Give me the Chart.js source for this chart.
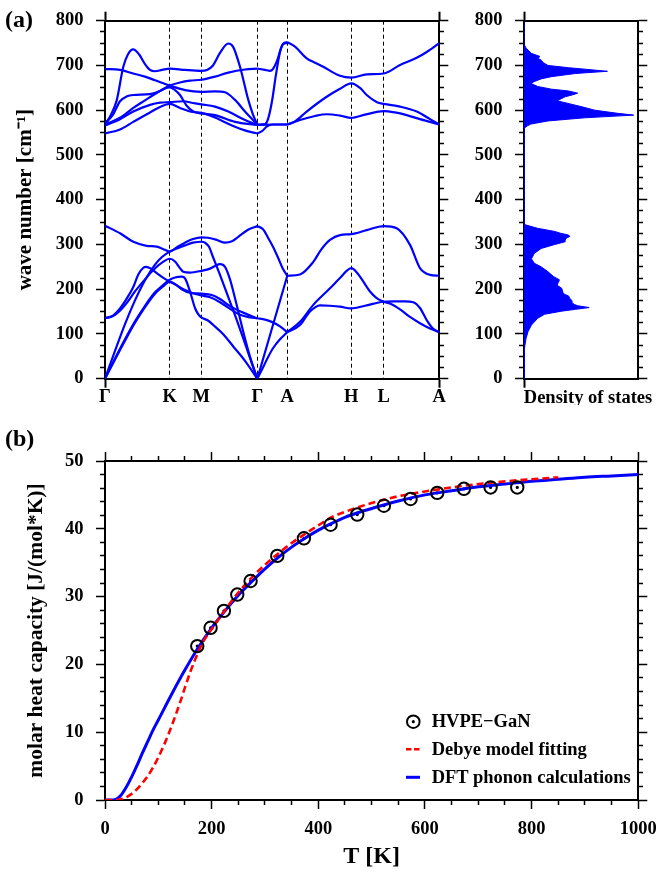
<!DOCTYPE html>
<html>
<head>
<meta charset="utf-8">
<script src="https://cdn.jsdelivr.net/npm/chart.js@4.4.1/dist/chart.umd.min.js"></script>
<style>
  html, body { margin: 0; padding: 0; background: #fff; }
  #page { position: relative; width: 656px; height: 872px; overflow: hidden;
          font-family: "Liberation Serif", "Times New Roman", serif; font-weight: bold; color: #000; }
  canvas { position: absolute; }
  .lbl { position: absolute; white-space: nowrap; }
  .leg { position: absolute; white-space: nowrap; font-size: 18.5px; line-height: 20px; left: 431.7px; }
</style>
</head>
<body>
<div id="page">
  <canvas id="disp" width="450" height="405" style="left:0;top:0"></canvas>
  <canvas id="dos" width="206" height="405" style="left:450px;top:0"></canvas>
  <canvas id="cp" width="656" height="467" style="left:0;top:405px"></canvas>
  <div class="lbl" style="left:5px;top:7px;font-size:24px;line-height:24px">(a)</div>
  <div class="lbl" style="left:5px;top:426px;font-size:24px;line-height:24px">(b)</div>
  <svg style="position:absolute;left:0;top:0" width="656" height="872">
    <circle cx="413.3" cy="721.7" r="6.3" fill="none" stroke="#000" stroke-width="2"/>
    <circle cx="413.3" cy="721.7" r="1.6" fill="#000"/>
    <line x1="406" y1="749.3" x2="420" y2="749.3" stroke="#ff0000" stroke-width="2.5" stroke-dasharray="5.5,2.5"/>
    <line x1="406" y1="777.3" x2="420" y2="777.3" stroke="#0000ff" stroke-width="3"/>
  </svg>
  <div class="leg" style="top:710.8px">HVPE−GaN</div>
  <div class="leg" style="top:738.8px">Debye model fitting</div>
  <div class="leg" style="top:766.7px">DFT phonon calculations</div>
</div>
<script>
// high-symmetry path
const kLabels = ['Γ', 'K', 'M', 'Γ', 'A', 'H', 'L', 'A'];
const kPos = [0, 64.7, 96.3, 152.3, 182.3, 246.3, 278.7, 334.3];

// phonon branches along Γ-K-M-Γ  [path position, cm^-1]
const bandsGKMG = [
  [[0,548],[15,557],[28.3,574],[45,595],[55,607],[64.7,614],[75,605],[85,597],[96.3,594],[110,584],[120,573],[130,563],[140,555],[146.7,551],[152.3,548]],
  [[0,566],[15,580],[28.3,597],[45,612],[55,617],[64.7,618],[78.3,620],[88,616],[96.3,613],[110,608],[123.3,597],[140,578],[152.3,567]],
  [[0,568],[15,583],[28.3,605],[40,622],[48.3,634],[64.7,651],[70,645],[75,634],[81.7,610],[88.3,597],[96.3,593],[110,589],[130,574],[152.3,567]],
  [[0,570],[8,590],[15,620],[22,631],[28.3,634],[45,636],[55,643],[64.7,655],[75,662],[85,666],[96.3,668],[110,675],[123.3,684],[140,691],[152.3,693]],
  [[0,692],[15,690],[28.3,682],[40,675],[50,667],[64.7,655],[80,645],[96.3,641],[110,642],[120,640],[130,623],[140,597],[152.3,568]],
  [[0,568],[6,590],[11.7,622],[18.3,697],[23,725],[28.3,736],[34,725],[40,703],[45,690],[50,687],[57,690],[64.7,693],[80,690],[96.3,688],[102,690],[108,700],[115,728],[123.3,749],[128,742],[135,697],[143.3,623],[148,590],[152.3,568]],
  [[0,342],[15,325],[28.3,306],[41.7,297],[51.7,295],[58,290],[64.7,284],[72,294],[80,304],[88,312],[96.3,316],[103,315],[112,310],[120,304],[127,307],[133.3,317],[143,333],[152.3,341]],
  [[0,0],[10,62],[20,122],[30,175],[40,220],[50,255],[57,272],[64.7,284],[72,291],[80,298],[88,304],[96.3,306],[100,304],[104,295],[108,272],[115,232],[122,190],[130,142],[138,92],[145,46],[152.3,0]],
  [[0,135],[8,140],[15,152],[22,170],[30,195],[40,222],[48.3,243],[58,261],[64.7,268],[70,262],[75,247],[78.3,239],[85,237],[96.3,241],[105,246],[110,252],[115,256],[120,250],[125,222],[130,180],[133.3,150],[140,90],[146,42],[152.3,0]],
  [[0,0],[10,45],[20,88],[30,128],[40,163],[50,193],[58,209],[64.7,221],[70,226],[76.7,228],[80,224],[85,195],[90,158],[93,145],[96.3,137],[103,130],[108.3,120],[118,100],[128.3,72],[140,40],[152.3,0]],
  [[0,135],[8,141],[15,157],[22,180],[28.3,205],[33.3,233],[38.3,248],[41,250],[46,246],[51.7,236],[58,226],[64.7,217],[71.7,209],[76.7,200],[85,192],[96.3,190],[106.7,187],[115,178],[121.7,167],[130,156],[140,146],[152.3,135]],
  [[0,0],[10,43],[20,85],[30,125],[40,160],[50,190],[58,206],[64.7,217],[72,208],[80,198],[88,191],[96.3,186],[105,182],[115,171],[125,156],[135,143],[145,137],[152.3,135]]
];

// branches along Γ-A
const bandsGA = [
  [[152.3,548],[157,553],[162,564],[168,568],[182.3,568]],
  [[152.3,567],[167,568],[182.3,568]],
  [[152.3,693],[160,690],[165,688],[168,692],[172,710],[176,738],[179,750],[182.3,752]],
  [[152.3,568],[160,569],[163,580],[167,620],[171,680],[175,730],[178,748],[182.3,750]],
  [[152.3,341],[158,334],[163.3,314],[168,295],[173.3,269],[178,245],[182.3,230]],
  [[152.3,0],[167.3,115],[182.3,230]],
  [[152.3,0],[158,25],[163,48],[168,68],[175,88],[182.3,104]],
  [[152.3,135],[160,132],[166.7,127],[175,117],[182.3,104]]
];

// branches along A-H-L-A
const bandsAHLA = [
  [[182.3,752],[190,742],[201.7,716],[210,706],[218.3,697],[235,677],[246.3,673],[261.7,680],[278.7,682],[295,701],[311.7,717],[321.7,730],[334.3,750]],
  [[182.3,568],[190,575],[201.7,597],[221.7,630],[235,648],[246.3,660],[255,650],[261.7,634],[272,618],[278.7,614],[295,608],[311.7,597],[325,580],[334.3,568]],
  [[182.3,568],[195,578],[210,587],[221.7,591],[235,588],[246.3,583],[260,590],[278.7,598],[290,595],[301.7,589],[315,580],[325,574],[334.3,568]],
  [[182.3,230],[195,233],[208.3,261],[216,288],[225,310],[235,321],[246.3,323],[261.7,332],[278.7,341],[291.7,336],[305,299],[315,247],[325,232],[334.3,230]],
  [[182.3,104],[195,127],[208.3,165],[225,202],[235,225],[246.3,247],[252,237],[258,218],[265,195],[271.7,180],[278.7,172],[285,168],[295,155],[305,138],[315,124],[325,112],[334.3,104]],
  [[182.3,104],[195,120],[205,150],[215,164],[225,163],[235,161],[246.3,157],[260,163],[278.7,172],[290,173],[300,173],[308.3,171],[315,158],[321.7,131],[328,112],[334.3,104]]
];

// density of states (arbitrary units, 0..1)
const dosFreq = [0, 38, 68, 90, 105, 120, 135, 144, 151, 155, 159, 163, 166, 170, 174, 180, 185, 189, 193, 202, 209, 215, 221, 228, 239, 250, 258, 268, 280, 291, 300, 306, 310, 314, 318, 321, 325, 329, 336, 344, 347,
                 555, 560, 565, 569, 576, 583, 589, 593, 600, 608, 613, 621, 630, 634, 638, 643, 647, 653, 660, 664, 670, 675, 682, 687, 695, 700, 706, 712, 716, 720, 727, 738, 747, 800];
const dosVal = [0, 0.002, 0.006, 0.018, 0.035, 0.065, 0.12, 0.18, 0.33, 0.45, 0.57, 0.47, 0.44, 0.42, 0.42, 0.40, 0.39, 0.35, 0.34, 0.33, 0.29, 0.30, 0.31, 0.26, 0.21, 0.15, 0.09, 0.065, 0.09, 0.15, 0.27, 0.36, 0.36, 0.37, 0.40, 0.39, 0.32, 0.27, 0.12, 0.01, 0,
                0, 0.006, 0.03, 0.06, 0.21, 0.53, 0.96, 0.82, 0.62, 0.50, 0.42, 0.29, 0.36, 0.42, 0.47, 0.39, 0.24, 0.12, 0.06, 0.09, 0.15, 0.24, 0.45, 0.73, 0.39, 0.21, 0.17, 0.15, 0.12, 0.14, 0.065, 0.02, 0, 0];

// molar heat capacity
const hvpeT  = [173, 198, 223, 248, 273, 323, 373, 423, 473, 523, 573, 623, 673, 723, 773];
const hvpeCp = [22.7, 25.4, 27.9, 30.3, 32.3, 36.0, 38.6, 40.6, 42.1, 43.4, 44.4, 45.3, 45.9, 46.1, 46.1];
const dftT  = [0, 10, 20, 30, 40, 50, 60, 70, 80, 90, 100, 125, 150, 175, 200, 225, 250, 275, 300, 325, 350, 375, 400, 425, 450, 475, 500, 550, 600, 650, 700, 750, 800, 850, 900, 950, 1000];
const dftCp = [0, 0, 0.1, 0.7, 1.9, 3.4, 5.1, 6.9, 8.6, 10.3, 11.8, 15.6, 19.2, 22.5, 25.4, 27.9, 30.2, 32.2, 34.1, 35.8, 37.3, 38.6, 39.8, 40.8, 41.7, 42.4, 43.0, 44.1, 45.0, 45.6, 46.2, 46.6, 47.0, 47.3, 47.6, 47.8, 48.0];
const debyeT  = [0, 20, 30, 40, 50, 60, 70, 80, 90, 100, 110, 120, 130, 140, 150, 160, 170, 180, 190, 200, 225, 250, 275, 300, 350, 400, 425, 450, 500, 550, 600, 650, 700, 750, 800, 850];
const debyeCp = [0, 0, 0.1, 0.4, 0.9, 1.6, 2.5, 3.5, 4.8, 6.3, 8.0, 9.9, 12.0, 14.2, 16.6, 18.9, 20.9, 22.7, 24.1, 25.2, 28.0, 30.6, 32.8, 34.7, 37.9, 40.5, 41.7, 42.5, 43.8, 44.8, 45.5, 46.1, 46.6, 47.0, 47.3, 47.6];

Chart.defaults.font.family = "'Liberation Serif', 'Times New Roman', serif";
Chart.defaults.font.weight = 'bold';
Chart.defaults.font.size = 18.5;
Chart.defaults.color = '#000';
Chart.defaults.animation = false;
Chart.defaults.plugins.legend.display = false;
Chart.defaults.plugins.tooltip.enabled = false;

const BLUE = '#0000ff';
const NONE = 'rgba(0,0,0,0)';

// fixed axis sizes so every plot area lands where the reference has it
function fitW(w) { return s => { s.width = w; s.paddingTop = 0; s.paddingBottom = 0; }; }
function fitH(h) { return s => { s.height = h; s.paddingLeft = 0; s.paddingRight = 0; }; }

// minor ticks are drawn shorter by dashing away the outer part of the tick line
function tickDash(major, outerFirst) {
  return c => {
    if (!c.tick) return [];
    const r = c.tick.value / major;
    if (Math.abs(r - Math.round(r)) < 1e-6) return [];
    return outerFirst ? [0, 4, 20] : [4, 20];
  };
}

function valueAxis(position, max, step, major, width, opts) {
  const left = position === 'left';
  return Object.assign({
    type: 'linear', position, min: 0, max,
    afterFit: fitW(width),
    ticks: left
      ? { stepSize: step, autoSkip: false, padding: 12.5, callback: v => (v % major === 0 ? v : '') }
      : { stepSize: step, autoSkip: false, display: false },
    grid: { drawOnChartArea: false, tickLength: 9, tickWidth: 1.5, color: '#000', tickBorderDash: tickDash(major, left) },
    border: { width: 2, color: '#000' }
  }, opts || {});
}

function lineSet(seg) {
  return {
    data: seg.map(([x, y]) => ({ x, y })),
    borderColor: BLUE, borderWidth: 2.2, pointRadius: 0, fill: false,
    cubicInterpolationMode: 'monotone'
  };
}

// ---------- (a) dispersion ----------
const isEnd = c => c.index === 0 || c.index === kPos.length - 1;
new Chart(document.getElementById('disp'), {
  type: 'line',
  data: { datasets: bandsGKMG.concat(bandsGA, bandsAHLA).map(lineSet) },
  options: {
    responsive: false,
    layout: { padding: 0, autoPadding: false },
    scales: {
      x: {
        type: 'linear', position: 'bottom', min: 0, max: kPos[kPos.length - 1],
        afterBuildTicks: s => { s.ticks = kPos.map(v => ({ value: v })); },
        afterFit: fitH(26.3),
        ticks: { autoSkip: false, maxRotation: 0, minRotation: 0, padding: -2, callback: (v, i) => kLabels[i] },
        grid: {
          drawOnChartArea: true, lineWidth: 1, color: c => (isEnd(c) ? NONE : '#000'),
          tickLength: 9, tickWidth: 2, tickColor: c => (isEnd(c) ? '#000' : NONE)
        },
        border: { width: 2, color: '#000', dash: [4, 3] }
      },
      xt: {
        type: 'linear', position: 'top', min: 0, max: kPos[kPos.length - 1],
        afterBuildTicks: s => { s.ticks = [{ value: 0 }, { value: kPos[kPos.length - 1] }]; },
        afterFit: fitH(20.7),
        ticks: { display: false },
        grid: { drawOnChartArea: false, tickLength: 9, tickWidth: 2, color: '#000' },
        border: { width: 2, color: '#000' }
      },
      y: valueAxis('left', 800, 25, 100, 105, {
        title: { display: true, text: 'wave number [cm⁻¹]', font: { size: 21 }, padding: { top: 13, bottom: 0 } }
      }),
      yr: valueAxis('right', 800, 25, 100, 10.7)
    }
  }
});

// ---------- (a) density of states ----------
new Chart(document.getElementById('dos'), {
  type: 'line',
  data: {
    datasets: [{
      data: dosFreq.map((f, i) => ({ x: dosVal[i], y: f })),
      borderColor: BLUE, backgroundColor: BLUE, borderWidth: 1, pointRadius: 0,
      fill: 'origin', tension: 0
    }]
  },
  options: {
    responsive: false,
    indexAxis: 'y',
    layout: { padding: 0, autoPadding: false },
    scales: {
      x: {
        type: 'linear', position: 'bottom', min: 0, max: 1,
        afterBuildTicks: s => { s.ticks = [{ value: 0 }, { value: 0.56 }]; },
        afterFit: fitH(26.3),
        ticks: { autoSkip: false, maxRotation: 0, minRotation: 0, padding: -1, callback: (v, i) => (i === 1 ? 'Density of states' : '') },
        grid: { drawOnChartArea: false, tickLength: 9, tickWidth: 2, color: '#000', tickColor: c => (c.index === 0 ? '#000' : NONE) },
        border: { width: 2, color: '#000' }
      },
      xt: {
        type: 'linear', position: 'top', min: 0, max: 1,
        afterBuildTicks: s => { s.ticks = [{ value: 0 }]; },
        afterFit: fitH(20.7),
        ticks: { display: false },
        grid: { drawOnChartArea: false, tickLength: 9, tickWidth: 2, color: '#000' },
        border: { width: 2, color: '#000' }
      },
      y: valueAxis('left', 800, 25, 100, 74),
      yr: valueAxis('right', 800, 25, 100, 17.7)
    }
  }
});

// ---------- (b) heat capacity ----------
new Chart(document.getElementById('cp'), {
  type: 'line',
  data: {
    datasets: [
      { data: hvpeT.map((t, i) => ({ x: t, y: hvpeCp[i] })), showLine: false, pointRadius: 6.2, pointBorderWidth: 2,
        pointBorderColor: '#000', pointBackgroundColor: NONE, order: 0 },
      { data: debyeT.map((t, i) => ({ x: t, y: debyeCp[i] })), borderColor: '#ff0000', borderWidth: 2.6, borderDash: [7, 4],
        pointRadius: 0, fill: false, cubicInterpolationMode: 'monotone', order: 1 },
      { data: dftT.map((t, i) => ({ x: t, y: dftCp[i] })), borderColor: BLUE, borderWidth: 3,
        pointRadius: 0, fill: false, cubicInterpolationMode: 'monotone', order: 2 },
      { data: hvpeT.map((t, i) => ({ x: t, y: hvpeCp[i] })), showLine: false, pointRadius: 1.6, pointBorderWidth: 0,
        pointBackgroundColor: '#000', order: 3 }
    ]
  },
  options: {
    responsive: false,
    layout: { padding: 0, autoPadding: false },
    scales: {
      x: {
        type: 'linear', position: 'bottom', min: 0, max: 1000,
        afterFit: fitH(72),
        ticks: { stepSize: 50, autoSkip: false, maxRotation: 0, minRotation: 0, padding: 9, callback: v => (v % 200 === 0 ? v : '') },
        grid: { drawOnChartArea: false, tickLength: 9, tickWidth: 1.5, color: '#000', tickBorderDash: tickDash(200, false) },
        border: { width: 2, color: '#000' },
        title: { display: true, text: 'T [K]', font: { size: 24 }, padding: { top: 0, bottom: 1 } }
      },
      xt: {
        type: 'linear', position: 'top', min: 0, max: 1000,
        afterFit: fitH(56),
        ticks: { stepSize: 50, autoSkip: false, display: false },
        grid: { drawOnChartArea: false, tickLength: 9, tickWidth: 1.5, color: '#000', tickBorderDash: tickDash(200, true) },
        border: { width: 2, color: '#000' }
      },
      y: valueAxis('left', 50, 2, 10, 105, {
        title: { display: true, text: 'molar heat capacity [J/(mol*K)]', font: { size: 21.5 }, padding: { top: 24, bottom: 0 } }
      }),
      yr: valueAxis('right', 50, 2, 10, 17.7)
    }
  }
});
</script>
</body>
</html>
